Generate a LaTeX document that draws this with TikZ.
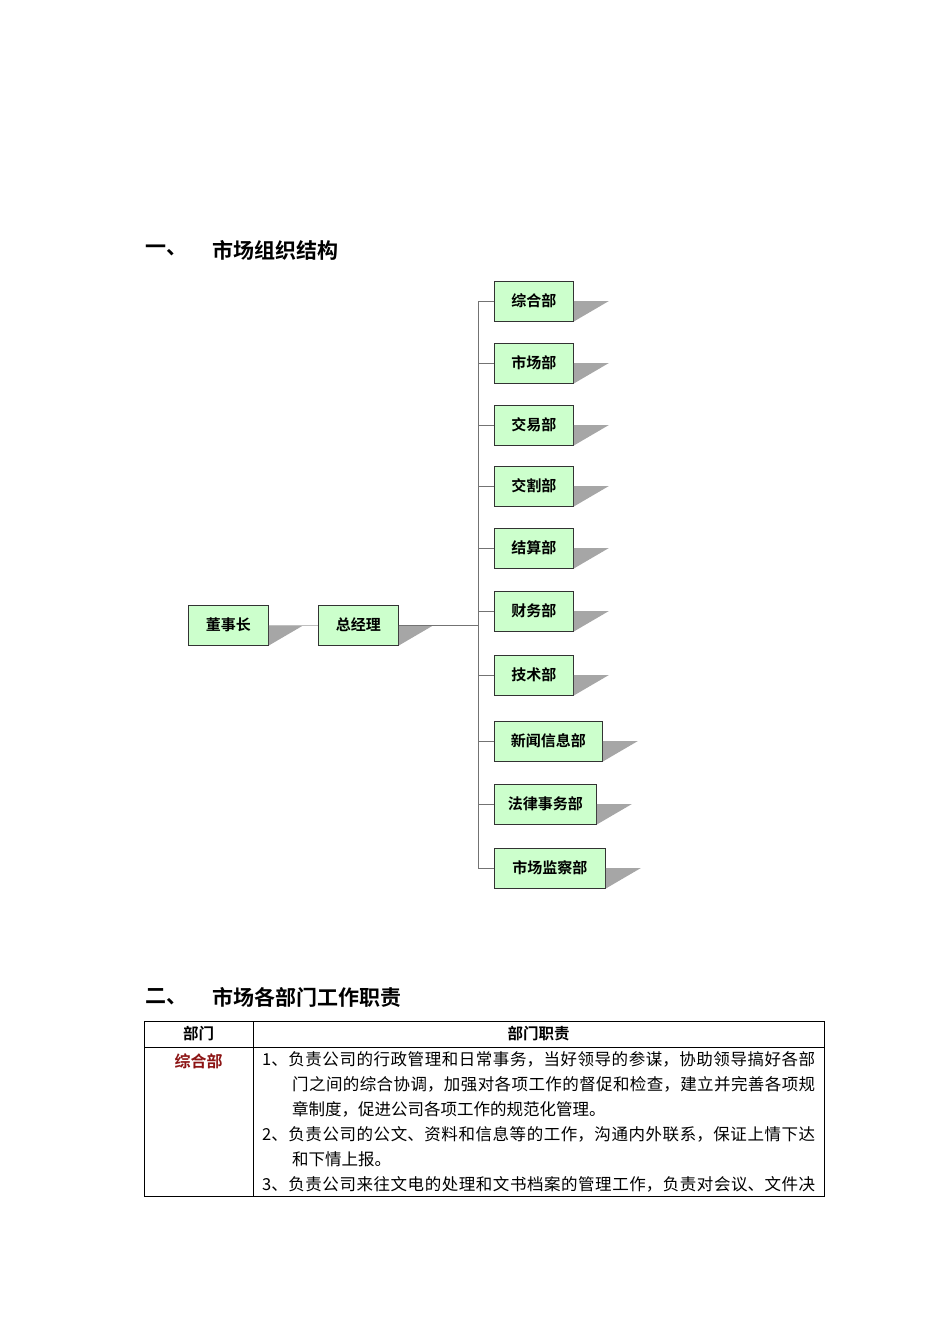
\documentclass[tikz,border=0pt]{standalone}
\usepackage{fontspec}
\setmainfont{Noto Sans CJK SC}
\newfontfamily\cjkb{Noto Sans CJK SC Bold}
\XeTeXlinebreaklocale "zh"
\XeTeXlinebreakskip=0pt plus 2pt
\definecolor{boxgreen}{RGB}{204,255,204}
\definecolor{darkred}{RGB}{140,20,20}
\tikzset{
  orgbox/.style={draw=black!80, line width=0.9pt, fill=boxgreen, minimum height=40pt, inner sep=0pt, font=\cjkb\fontsize{15}{15}\selectfont, anchor=west},
  conn/.style={draw=black!55, line width=0.8pt},
  heading/.style={font=\cjkb\fontsize{21}{21}\selectfont, anchor=west, inner sep=0pt},
  cell/.style={font=\fontsize{16.5}{25}\selectfont, anchor=north west, inner sep=0pt, text width=553pt, align=justify}
}
\newcommand{\shad}[1]{\fill[black!35] (#1.east) -- ++(35pt,0) -- (#1.south east) -- cycle;}
\begin{document}
\begin{tikzpicture}[x=1pt,y=-1pt]
\useasboundingbox (0,0) rectangle (950,1344);
\node[heading] (h1a) at (145,250) {一、};
\node[heading] (h1b) at (212,250) {市场组织结构};
\node[heading] (h2a) at (145,997) {二、};
\node[heading] (h2b) at (212,997) {市场各部门工作职责};
% boxes
\node[orgbox, minimum width=80pt] (dsz) at (188,625) {董事长};
\node[orgbox, minimum width=80pt] (zjl) at (318,625) {总经理};
\coordinate (trunk) at (478,625);
\foreach \n/\t/\y/\w in {a/综合部/301/79, b/市场部/363/79, c/交易部/425/79, d/交割部/486/79, e/结算部/548/79, f/财务部/611/79, g/技术部/675/79, h/新闻信息部/741/108, i/法律事务部/804/102, j/市场监察部/868/111}{
  \node[orgbox, minimum width=\w pt] (\n) at (494,\y) {\t};
  \shad{\n}
  \draw[conn] (\n.west) -- (\n.west -| trunk);
}
\shad{dsz}
\shad{zjl}
\draw[conn] (a.west -| trunk) -- (j.west -| trunk);
\draw[conn, draw=black!25] (dsz) -- (zjl);
\draw[conn] (zjl.east) -- (trunk);
% table
\draw[line width=0.8pt] (144,1021) rectangle (824,1196);
\draw[line width=0.8pt] (144,1047) -- (824,1047);
\draw[line width=0.8pt] (253,1021) -- (253,1196);
\node[font=\cjkb\fontsize{15.5}{15.5}\selectfont] (th1) at (198.5,1034) {部门};
\node[font=\cjkb\fontsize{15.5}{15.5}\selectfont] (th2) at (538.5,1034) {部门职责};
\node[font=\cjkb\fontsize{16}{16}\selectfont, text=darkred] (dep) at (198.5,1061) {综合部};
\node[cell] (txt) at (262,1051) {\hangindent=30pt\hangafter=1
1、负责公司的行政管理和日常事务，当好领导的参谋，协助领导搞好各部\linebreak 门之间的综合协调，加强对各项工作的督促和检查，建立并完善各项规\linebreak 章制度，促进公司各项工作的规范化管理。\par
\hangindent=30pt\hangafter=1
2、负责公司的公文、资料和信息等的工作，沟通内外联系，保证上情下达\linebreak 和下情上报。\par
\hangindent=30pt\hangafter=1\parfillskip=0pt
3、负责公司来往文电的处理和文书档案的管理工作，负责对会议、文件决\par};
\end{tikzpicture}
\end{document}
